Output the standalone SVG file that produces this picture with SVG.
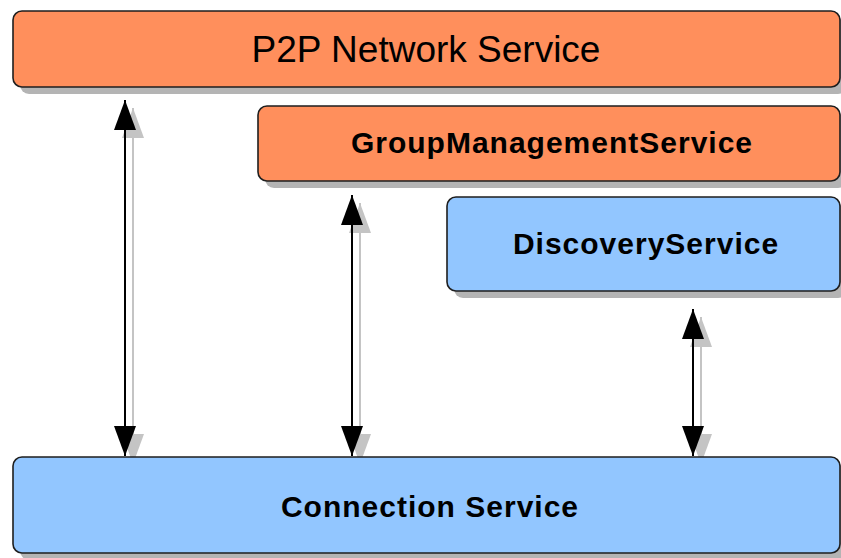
<svg xmlns="http://www.w3.org/2000/svg" width="841" height="558" viewBox="0 0 841 558">
  <style>
    .shadow { fill: #b4b4b4; }
    .orange { fill: #ff8f5c; stroke: #1e1e1e; stroke-width: 1.6; }
    .blue { fill: #92c6ff; stroke: #1e1e1e; stroke-width: 1.6; }
    .label { font-family: "Liberation Sans", Arial, sans-serif; fill: #000; text-anchor: middle; }
    .bold { font-weight: bold; font-size: 30px; letter-spacing: 1px; }
    .link { stroke: #000; stroke-width: 2; fill: none; marker-start: url(#head); marker-end: url(#head); }
    .link-shadow { stroke: #c4c4c4; stroke-width: 2; fill: none; marker-start: url(#head-shadow); marker-end: url(#head-shadow); }
  </style>
  <defs>
    <marker id="head" viewBox="0 0 30 22" refX="30" refY="11" markerWidth="30" markerHeight="22" markerUnits="userSpaceOnUse" orient="auto-start-reverse">
      <path d="M0,0 L30,11 L0,22 z" fill="#000"/>
    </marker>
    <marker id="head-shadow" viewBox="0 0 30 22" refX="30" refY="11" markerWidth="30" markerHeight="22" markerUnits="userSpaceOnUse" orient="auto-start-reverse">
      <path d="M0,0 L30,11 L0,22 z" fill="#c4c4c4"/>
    </marker>
  </defs>
  <rect width="841" height="558" fill="#fff"/>

  <!-- connectors between the service layers -->
  <g id="connectors">
    <path class="link-shadow" d="M133,108 L133,464"/>
    <path class="link-shadow" d="M360,203 L360,464"/>
    <path class="link-shadow" d="M701,317 L701,464"/>
    <path class="link" d="M125,100 L125,456"/>
    <path class="link" d="M352,195 L352,456"/>
    <path class="link" d="M693,309 L693,456"/>
  </g>

  <g id="p2p-network-service">
    <rect class="shadow" x="20" y="18" width="827" height="76" rx="9"/>
    <rect class="orange" x="13" y="11" width="827" height="76" rx="9"/>
    <text class="label" x="426" y="62" font-size="37">P2P Network Service</text>
  </g>

  <g id="group-management-service">
    <rect class="shadow" x="265" y="113" width="582" height="75" rx="9"/>
    <rect class="orange" x="258" y="106" width="582" height="75" rx="9"/>
    <text class="label bold" x="552" y="153">GroupManagementService</text>
  </g>

  <g id="discovery-service">
    <rect class="shadow" x="454" y="204" width="393" height="94" rx="9"/>
    <rect class="blue" x="447" y="197" width="393" height="94" rx="9"/>
    <text class="label bold" x="646" y="254">DiscoveryService</text>
  </g>

  <g id="connection-service">
    <rect class="shadow" x="20" y="464" width="827" height="96" rx="9"/>
    <rect class="blue" x="13" y="457" width="827" height="96" rx="9"/>
    <text class="label bold" x="430" y="517">Connection Service</text>
  </g>
</svg>
